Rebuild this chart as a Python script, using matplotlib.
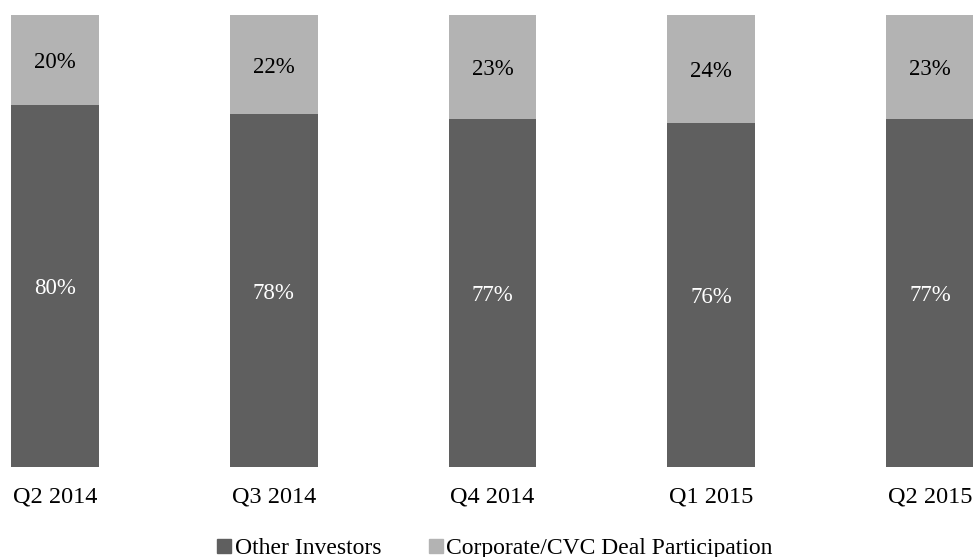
import matplotlib.pyplot as plt
from matplotlib.lines import Line2D

# donnees
trimestres = ["Q2 2014", "Q3 2014", "Q4 2014", "Q1 2015", "Q2 2015"]
autres = [80, 78, 77, 76, 77]
corporate = [20, 22, 23, 24, 23]

sombre = "#5f5f5f"
clair = "#b3b3b3"

plt.rcParams['font.family'] = ['Liberation Serif', 'DejaVu Serif']

fig = plt.figure(figsize=(9.73, 5.57), dpi=100)
ax = fig.add_axes([0, (557 - 467) / 557, 1, (467 - 15) / 557])

x = list(range(len(trimestres)))
largeur = 0.402
ax.bar(x, autres, largeur, color=sombre)
ax.bar(x, corporate, largeur, bottom=autres, color=clair)

for i in x:
    ax.text(i, autres[i] / 2, str(autres[i]) + "%", ha='center', va='center_baseline',
            color='white', fontsize=16.5)
    ax.text(i, autres[i] + corporate[i] / 2, str(corporate[i]) + "%",
            ha='center', va='center_baseline', color='black', fontsize=16.5)

ax.set_xlim(-55 / 218.75, (973 - 55) / 218.75)
ax.set_ylim(0, 100)
ax.set_yticks([])
ax.set_xticks(x)
ax.set_xticklabels(trimestres, fontsize=17.5)
ax.tick_params(axis='x', length=0, pad=14)
for s in ax.spines.values():
    s.set_visible(False)

poignees = [Line2D([], [], marker='s', linestyle='', color=sombre, markersize=10),
            Line2D([], [], marker='s', linestyle='', color=clair, markersize=10)]
fig.legend(poignees, ["Other Investors", "Corporate/CVC Deal Participation"],
           loc='center', bbox_to_anchor=(495 / 973, 9 / 557), ncol=2,
           frameon=False, fontsize=17, handlelength=0.6, handletextpad=0.15,
           columnspacing=2.0, borderpad=0)

fig.savefig("out.png", dpi=100)
